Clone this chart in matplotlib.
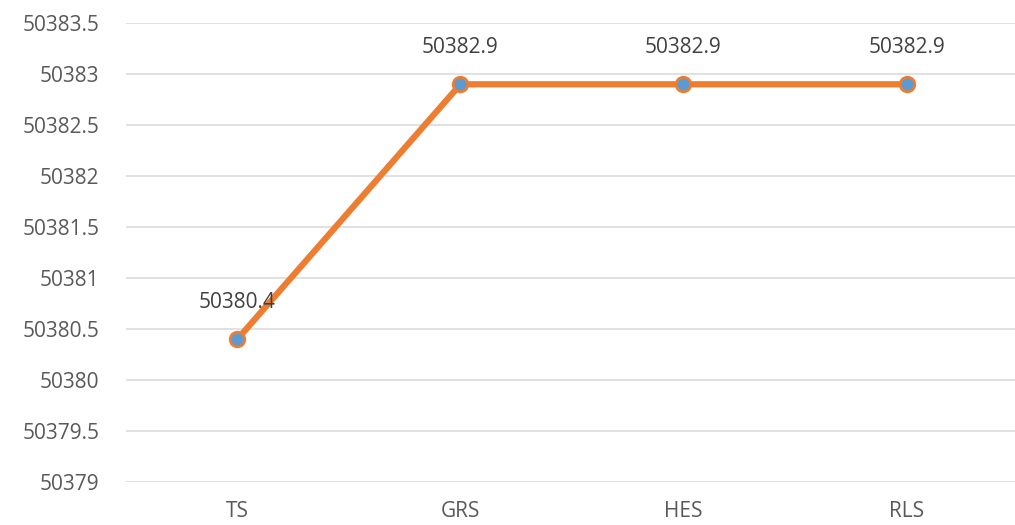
import numpy as np
import matplotlib.pyplot as plt

# series values
methods = ['TS', 'GRS', 'HES', 'RLS']
values = [50380.4, 50382.9, 50382.9, 50382.9]
yticks = [50379, 50379.5, 50380, 50380.5, 50381, 50381.5, 50382, 50382.5, 50383, 50383.5]
ytick_labels = ['50379', '50379.5', '50380', '50380.5', '50381', '50381.5',
                '50382', '50382.5', '50383', '50383.5']

plt.rcParams['font.family'] = ['Open Sans', 'DejaVu Sans']
text_col = '#595959'

fig = plt.figure(figsize=(10.15, 5.25), dpi=100)
ax = fig.add_axes([0.124, 0.082, 0.879, 0.874])

x = np.arange(len(methods))
ax.plot(x, values, color='#ED7D31', linewidth=4.5, marker='o', markersize=10.5,
        markerfacecolor='#5B9BD5', markeredgecolor='#ED7D31', markeredgewidth=2,
        solid_capstyle='round', zorder=3)

for xi, v in zip(x, values):
    ax.annotate('%.1f' % v, (xi, v), xytext=(0, 19), textcoords='offset points',
                ha='center', va='bottom', fontsize=15, color='#404040')

ax.set_xlim(-0.5, len(methods) - 0.5)
ax.set_ylim(50379, 50383.5)
ax.set_xticks(x)
ax.set_xticklabels(methods)
ax.set_yticks(yticks)
ax.set_yticklabels(ytick_labels)
ax.tick_params(axis='both', length=0, labelsize=15, labelcolor=text_col)
ax.tick_params(axis='y', pad=19)
ax.tick_params(axis='x', pad=14)
ax.grid(axis='y', color='#D9D9D9', linewidth=1.1)
ax.set_axisbelow(True)
for s in ax.spines.values():
    s.set_visible(False)

fig.savefig('out.png', dpi=100)
